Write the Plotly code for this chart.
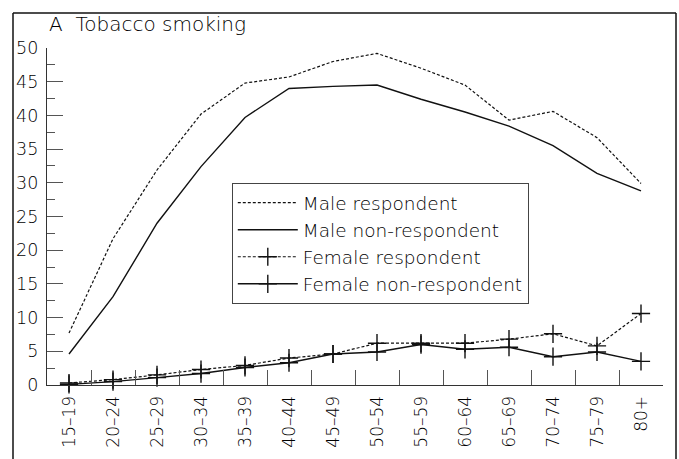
import plotly.graph_objects as go

age_groups = ["15–19", "20–24", "25–29", "30–34", "35–39", "40–44", "45–49",
              "50–54", "55–59", "60–64", "65–69", "70–74", "75–79", "80+"]
male_respondent = [7.7, 21.7, 31.9, 40.2, 44.8, 45.7, 48.0, 49.2, 47.0, 44.5, 39.3, 40.6, 36.7, 29.9]
male_nonrespondent = [4.6, 13.1, 24.0, 32.4, 39.7, 44.0, 44.3, 44.5, 42.4, 40.5, 38.4, 35.5, 31.4, 28.8]
female_respondent = [0.3, 0.8, 1.5, 2.3, 2.9, 4.0, 4.6, 6.2, 6.2, 6.2, 6.8, 7.6, 5.8, 10.6]
female_nonrespondent = [0.1, 0.5, 1.1, 1.7, 2.6, 3.3, 4.6, 4.9, 6.0, 5.3, 5.6, 4.2, 4.9, 3.5]
y_ticks = [0, 5, 10, 15, 20, 25, 30, 35, 40, 45, 50]

FONT = "DejaVu Sans"
INK = "#111111"
TXT = "#000000"

fig = go.Figure()
fig.add_trace(go.Scatter(x=age_groups, y=male_respondent, name="Male respondent",
                         mode="lines", line=dict(color=INK, width=1.2, dash="3px,2px"),
                         legendgroup="a"))
fig.add_trace(go.Scatter(x=age_groups, y=male_nonrespondent, name="Male non-respondent",
                         mode="lines", line=dict(color=INK, width=1.4),
                         legendgroup="b"))
fig.add_trace(go.Scatter(x=age_groups, y=female_respondent, name="Female respondent",
                         mode="lines+markers", line=dict(color=INK, width=1.2, dash="3px,2px"),
                         marker=dict(symbol="cross-thin", size=13, line=dict(color=INK, width=1.4)),
                         legendgroup="c", cliponaxis=False))
fig.add_trace(go.Scatter(x=age_groups, y=female_nonrespondent, name="Female non-respondent",
                         mode="lines+markers", line=dict(color=INK, width=1.4),
                         marker=dict(symbol="cross-thin", size=13, line=dict(color=INK, width=1.4)),
                         legendgroup="d", cliponaxis=False))

fig.update_layout(
    width=679, height=459,
    margin=dict(l=47, r=16, t=48, b=74),
    paper_bgcolor="white", plot_bgcolor="white",
    font=dict(family=FONT, color=TXT, size=17, weight=200),
    showlegend=True,
    legend=dict(x=0.300, y=0.599, xanchor="left", yanchor="top",
                bordercolor="#444444", borderwidth=1, bgcolor="white",
                font=dict(size=18.5, family=FONT, color=TXT, weight=200),
                traceorder="grouped", tracegroupgap=0, itemwidth=60),
    xaxis=dict(type="category", range=[-0.5, 13.5], showgrid=False, zeroline=False,
               showline=True, linecolor="#333333", linewidth=1.2,
               ticks="inside", ticklen=15, tickwidth=1.2, tickcolor="#555555",
               tickson="boundaries", tickangle=-90,
               tickfont=dict(size=17, family=FONT, color=TXT, weight=200),
               ticklabelstandoff=3),
    yaxis=dict(range=[0, 50], showgrid=False, zeroline=False,
               showline=True, linecolor="#333333", linewidth=1.2,
               tickmode="array", tickvals=y_ticks, ticks="inside", ticklen=16,
               tickwidth=1.2, tickcolor="#555555",
               tickfont=dict(size=17.5, family=FONT, color=TXT, weight=200),
               ticklabelstandoff=4,
               minor=dict(dtick=2.5, ticks="inside", ticklen=8, tickwidth=1.2, tickcolor="#555555")),
)

fig.add_annotation(text="A\u00a0\u00a0Tobacco smoking", xref="paper", yref="paper",
                   x=0, y=1, xshift=0, yshift=10, xanchor="left", yanchor="bottom",
                   showarrow=False, font=dict(size=20, family=FONT, color=TXT, weight=200))

# outer frame (left, top, right edges; bottom runs off the page)
fx0, fx1 = -34 / 616, 629 / 616
fy0, fy1 = -80 / 337, 1 + 35 / 337
frame = dict(color="#111111", width=1.5)
fig.add_shape(type="line", xref="paper", yref="paper", x0=fx0, x1=fx0, y0=fy0, y1=fy1, line=frame)
fig.add_shape(type="line", xref="paper", yref="paper", x0=fx0, x1=fx1, y0=fy1, y1=fy1, line=frame)
fig.add_shape(type="line", xref="paper", yref="paper", x0=fx1, x1=fx1, y0=fy0, y1=fy1, line=frame)

fig.write_html("out.html", config={"displayModeBar": False},
               post_script="document.body.style.margin='0';document.body.style.overflow='hidden';")
